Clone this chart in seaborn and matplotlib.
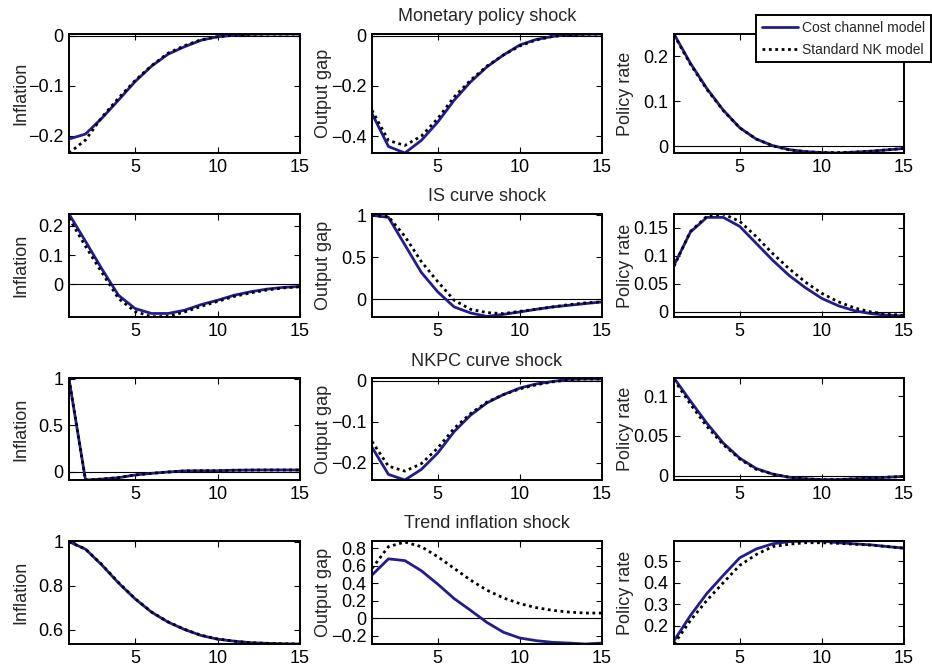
import numpy as np
import pandas as pd
import matplotlib
matplotlib.use("Agg")
import matplotlib.pyplot as plt
import seaborn as sns
from matplotlib.lines import Line2D

sns.set_style("ticks")
plt.rcParams['font.family'] = ['Liberation Sans', 'DejaVu Sans']

periods = list(range(1, 16))
row_titles = ["Monetary policy shock", "IS curve shock", "NKPC curve shock", "Trend inflation shock"]
col_labels = ["Inflation", "Output gap", "Policy rate"]
series_names = ["Cost channel model", "Standard NK model"]

# Monetary policy shock
mp_infl_cost = [-0.207, -0.197, -0.165, -0.129, -0.092, -0.061, -0.037, -0.022, -0.009, -0.002, 0.001, 0.003, 0.0035, 0.0035, 0.0035]
mp_infl_std = [-0.235, -0.209, -0.163, -0.125, -0.090, -0.060, -0.035, -0.020, -0.008, -0.002, 0.001, 0.003, 0.0035, 0.0035, 0.0035]
mp_gap_cost = [-0.310, -0.441, -0.467, -0.417, -0.344, -0.257, -0.184, -0.124, -0.077, -0.037, -0.015, -0.003, 0.004, 0.006, 0.0065]
mp_gap_std = [-0.297, -0.417, -0.437, -0.400, -0.330, -0.244, -0.177, -0.121, -0.077, -0.041, -0.017, -0.003, 0.004, 0.006, 0.0065]
mp_rate_cost = [0.249, 0.184, 0.128, 0.080, 0.041, 0.016, 0.0015, -0.0075, -0.012, -0.014, -0.015, -0.013, -0.011, -0.008, -0.005]
mp_rate_std = [0.247, 0.182, 0.126, 0.079, 0.041, 0.016, 0.001, -0.008, -0.012, -0.014, -0.014, -0.013, -0.011, -0.008, -0.005]

# IS curve shock
is_infl_cost = [0.240, 0.147, 0.052, -0.037, -0.082, -0.099, -0.099, -0.088, -0.069, -0.054, -0.037, -0.025, -0.016, -0.010, -0.007]
is_infl_std = [0.226, 0.130, 0.040, -0.048, -0.092, -0.110, -0.109, -0.094, -0.075, -0.058, -0.041, -0.029, -0.019, -0.012, -0.008]
is_gap_cost = [1.000, 0.976, 0.648, 0.320, 0.088, -0.092, -0.164, -0.205, -0.180, -0.152, -0.120, -0.092, -0.072, -0.052, -0.032]
is_gap_std = [1.000, 0.985, 0.750, 0.450, 0.210, -0.012, -0.120, -0.160, -0.172, -0.144, -0.120, -0.092, -0.064, -0.044, -0.032]
is_rate_cost = [0.083, 0.142, 0.168, 0.168, 0.152, 0.122, 0.092, 0.065, 0.043, 0.024, 0.011, 0.002, -0.003, -0.006, -0.007]
is_rate_std = [0.081, 0.143, 0.170, 0.174, 0.161, 0.134, 0.104, 0.077, 0.053, 0.033, 0.018, 0.007, 0.000, -0.004, -0.006]

# NKPC curve shock
nk_infl_cost = [1.000, -0.090, -0.080, -0.065, -0.036, -0.018, -0.004, 0.008, 0.010, 0.010, 0.015, 0.017, 0.018, 0.018, 0.018]
nk_infl_std = [1.000, -0.090, -0.080, -0.064, -0.036, -0.018, -0.004, 0.008, 0.010, 0.010, 0.015, 0.017, 0.018, 0.018, 0.018]
nk_gap_cost = [-0.162, -0.228, -0.2416, -0.216, -0.176, -0.124, -0.084, -0.054, -0.034, -0.018, -0.008, -0.002, 0.003, 0.004, 0.004]
nk_gap_std = [-0.148, -0.208, -0.220, -0.202, -0.164, -0.116, -0.080, -0.052, -0.034, -0.020, -0.010, -0.003, 0.002, 0.004, 0.004]
nk_rate_cost = [0.123, 0.094, 0.066, 0.041, 0.022, 0.009, 0.002, -0.002, -0.004, -0.005, -0.005, -0.004, -0.003, -0.002, -0.001]
nk_rate_std = [0.121, 0.090, 0.062, 0.039, 0.021, 0.008, 0.002, -0.002, -0.004, -0.005, -0.005, -0.004, -0.003, -0.002, -0.001]

# Trend inflation shock
tr_infl_cost = [1.000, 0.966, 0.893, 0.812, 0.740, 0.679, 0.634, 0.600, 0.573, 0.556, 0.547, 0.540, 0.537, 0.535, 0.534]
tr_infl_std = [1.000, 0.966, 0.895, 0.814, 0.741, 0.680, 0.635, 0.601, 0.574, 0.557, 0.547, 0.540, 0.537, 0.535, 0.534]
tr_gap_cost = [0.494, 0.680, 0.660, 0.544, 0.390, 0.224, 0.089, -0.050, -0.162, -0.228, -0.259, -0.278, -0.286, -0.297, -0.286]
tr_gap_std = [0.571, 0.820, 0.873, 0.820, 0.705, 0.571, 0.436, 0.320, 0.232, 0.166, 0.120, 0.089, 0.069, 0.058, 0.058]
tr_rate_cost = [0.131, 0.248, 0.350, 0.434, 0.515, 0.556, 0.580, 0.590, 0.593, 0.593, 0.585, 0.580, 0.575, 0.567, 0.560]
tr_rate_std = [0.116, 0.225, 0.318, 0.400, 0.480, 0.530, 0.567, 0.578, 0.585, 0.585, 0.582, 0.578, 0.574, 0.567, 0.560]

panels = [
    [(mp_infl_cost, mp_infl_std), (mp_gap_cost, mp_gap_std), (mp_rate_cost, mp_rate_std)],
    [(is_infl_cost, is_infl_std), (is_gap_cost, is_gap_std), (is_rate_cost, is_rate_std)],
    [(nk_infl_cost, nk_infl_std), (nk_gap_cost, nk_gap_std), (nk_rate_cost, nk_rate_std)],
    [(tr_infl_cost, tr_infl_std), (tr_gap_cost, tr_gap_std), (tr_rate_cost, tr_rate_std)],
]

yticks = [
    [[-0.2, -0.1, 0], [-0.4, -0.2, 0], [0, 0.1, 0.2]],
    [[0, 0.1, 0.2], [0, 0.5, 1], [0, 0.05, 0.1, 0.15]],
    [[0, 0.5, 1], [-0.2, -0.1, 0], [0, 0.05, 0.1]],
    [[0.6, 0.8, 1], [-0.2, 0, 0.2, 0.4, 0.6, 0.8], [0.2, 0.3, 0.4, 0.5]],
]

ylims = [
    [(-0.235, 0.0035), (-0.467, 0.0067), (-0.015, 0.249)],
    [(-0.111, 0.240), (-0.212, 1.016), (-0.009, 0.174)],
    [(-0.090, 1.010), (-0.2416, 0.0064), (-0.0055, 0.123)],
    [(0.534, 1.003), (-0.297, 0.885), (0.116, 0.593)],
]

W, H = 932, 667
fig = plt.figure(figsize=(W / 100, H / 100), dpi=100)

col_left = [69, 372, 674]
col_width = [231, 230, 230]
row_top = [34, 214, 378, 541]
row_bottom = [153, 317, 480, 644]

blue = "#231d8c"
dots = (0, (1, 1.3))

def fmt(v):
    s = "%g" % v
    return s.replace("-", "\u2212")

for r in range(4):
    for c in range(3):
        rect = [col_left[c] / W, 1 - row_bottom[r] / H, col_width[c] / W, (row_bottom[r] - row_top[r]) / H]
        ax = fig.add_axes(rect)
        cost, std = panels[r][c]
        df = pd.DataFrame({"t": periods, "cost": cost, "std": std})
        ax.axhline(0, color="black", lw=0.8, zorder=1)
        sns.lineplot(data=df, x="t", y="cost", ax=ax, color=blue, lw=2.0, zorder=2)
        sns.lineplot(data=df, x="t", y="std", ax=ax, color="black", lw=2.0, linestyle=dots, zorder=3)
        ax.set_xlim(1, 15)
        ax.set_ylim(*ylims[r][c])
        ax.set_xticks([5, 10, 15])
        ax.set_xticklabels(["5", "10", "15"])
        ax.set_yticks(yticks[r][c])
        ax.set_yticklabels([fmt(v) for v in yticks[r][c]])
        ax.tick_params(direction="in", top=True, right=True, length=4, width=0.8,
                       labelsize=13, pad=4, colors="black")
        for sp in ax.spines.values():
            sp.set_linewidth(1.4)
            sp.set_color("black")
        ax.set_xlabel("")
        ax.set_ylabel(col_labels[c], fontsize=13)
        ax.yaxis.set_label_coords(-0.173, 0.5)
        if c == 1:
            ax.set_title(row_titles[r], fontsize=13, pad=9)

handles = [Line2D([], [], color=blue, lw=2.0),
           Line2D([], [], color="black", lw=2.0, linestyle=dots)]
leg = fig.legend(handles, series_names, loc="upper right",
                 bbox_to_anchor=(931 / W, 1 - 15 / H), borderaxespad=0,
                 fontsize=10, frameon=True, fancybox=False, handlelength=2.6,
                 handletextpad=0.3, borderpad=0.4, labelspacing=0.6)
leg.get_frame().set_edgecolor("black")
leg.get_frame().set_linewidth(1.4)
leg.get_frame().set_alpha(1)

fig.savefig("out.png", dpi=100)
